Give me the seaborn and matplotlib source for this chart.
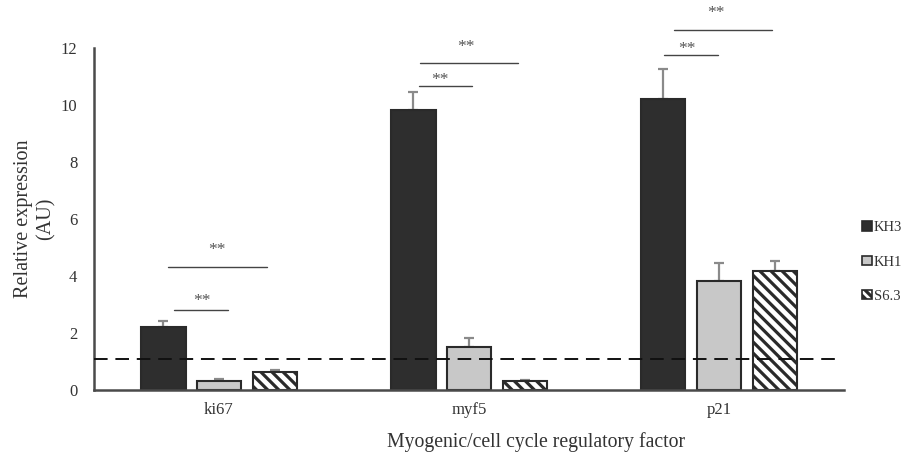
import matplotlib
matplotlib.use("Agg")
import matplotlib.pyplot as plt
import seaborn as sns
import pandas as pd
import numpy as np

factors = ["ki67", "myf5", "p21"]
groups = ["KH3", "KH1", "S6.3"]
kh3_vals = [2.22, 9.82, 10.21]
kh1_vals = [0.32, 1.51, 3.82]
s63_vals = [0.63, 0.33, 4.16]
kh3_err = [0.21, 0.62, 1.05]
kh1_err = [0.07, 0.30, 0.63]
s63_err = [0.08, 0.03, 0.37]
baseline = 1.08

# significance brackets: (x_start, x_end, y_line, x_star, y_star) in data units
brackets = [
    (-0.18, 0.036, 2.81, -0.07, 3.13),
    (-0.204, 0.19, 4.33, -0.01, 4.91),
    (-0.20, 0.012, 10.68, -0.116, 10.88),
    (-0.196, 0.196, 11.48, -0.013, 12.05),
    (-0.22, -0.004, 11.77, -0.13, 11.96),
    (-0.18, 0.21, 12.62, -0.013, 13.22),
]

vals = [kh3_vals, kh1_vals, s63_vals]
errs = [kh3_err, kh1_err, s63_err]
rows = []
for g, v in zip(groups, vals):
    for f, y in zip(factors, v):
        rows.append({"factor": f, "group": g, "value": y})
df = pd.DataFrame(rows)

sns.set_style("white")
plt.rcParams["font.family"] = ["Liberation Serif", "DejaVu Serif"]
plt.rcParams["hatch.linewidth"] = 2.3
plt.rcParams["hatch.color"] = "#1a1a1a"

fig = plt.figure(figsize=(9.06, 4.53), dpi=100)
ax = fig.add_axes([94/906, 1-390/453, 750/906, 342/453])

palette = {"KH3": "#2e2e2e", "KH1": "#c8c8c8", "S6.3": "#ffffff"}
sns.barplot(data=df, x="factor", y="value", hue="group", hue_order=groups,
            order=factors, palette=palette, width=0.67, gap=0.2,
            edgecolor="#2a2a2a", linewidth=1.5, errorbar=None, ax=ax,
            legend=True, zorder=2)

for cont, g, e in zip(ax.containers, groups, errs):
    xs = []
    ys = []
    for p in cont.patches:
        xs.append(p.get_x() + p.get_width() / 2)
        ys.append(p.get_height())
        if g == "S6.3":
            p.set_hatch("\\\\\\")
    ax.errorbar(xs, ys, yerr=[np.zeros(len(e)), e], fmt="none",
                ecolor="#8a8a8a", elinewidth=1.6, capsize=3.5, capthick=1.6,
                zorder=1)

ax.axhline(baseline, xmin=0, xmax=0.992, color="#111111", lw=1.4,
           dashes=(7, 4), zorder=5)

for i, (x0, x1, yl, xs_, ys_) in enumerate(brackets):
    off = i // 2
    ax.plot([off + x0, off + x1], [yl, yl], color="#444444", lw=1.0,
            clip_on=False)
    ax.text(off + xs_, ys_, "**", ha="center", va="center", fontsize=12.5,
            color="#555555", clip_on=False)

ax.set_ylim(0, 12)
ax.set_xlim(-0.5, 2.5)
ax.set_yticks([0, 2, 4, 6, 8, 10, 12])
ax.tick_params(axis="both", length=0, labelsize=12, labelcolor="#333333")
ax.tick_params(axis="y", pad=12)
ax.tick_params(axis="x", pad=9)
for s in ["top", "right"]:
    ax.spines[s].set_visible(False)
for s in ["left", "bottom"]:
    ax.spines[s].set_color("#4a4a4a")
    ax.spines[s].set_linewidth(1.8)

ax.set_xlabel("Myogenic/cell cycle regulatory factor", fontsize=14.2,
              color="#333333")
ax.xaxis.set_label_coords((536 - 94) / 750, -0.122)
ax.set_ylabel("Relative expression\n(AU)", fontsize=14.5, color="#333333",
              linespacing=1.25)
ax.yaxis.set_label_coords(-(94 - 56) / 750, 0.5)

leg = ax.get_legend()
handles = leg.legend_handles
for h, g in zip(handles, groups):
    h.set_edgecolor("#2a2a2a")
    h.set_linewidth(1.2)
    if g == "S6.3":
        h.set_hatch("\\\\\\\\")
leg.remove()
fig.legend(handles, groups, loc="center left", bbox_to_anchor=(855/906, 1-262/453),
           frameon=False, fontsize=10.5, handlelength=0.65, handleheight=0.65,
           handletextpad=0.15, labelspacing=1.45, borderpad=0,
           labelcolor="#333333")

fig.savefig("out.png", dpi=100)
